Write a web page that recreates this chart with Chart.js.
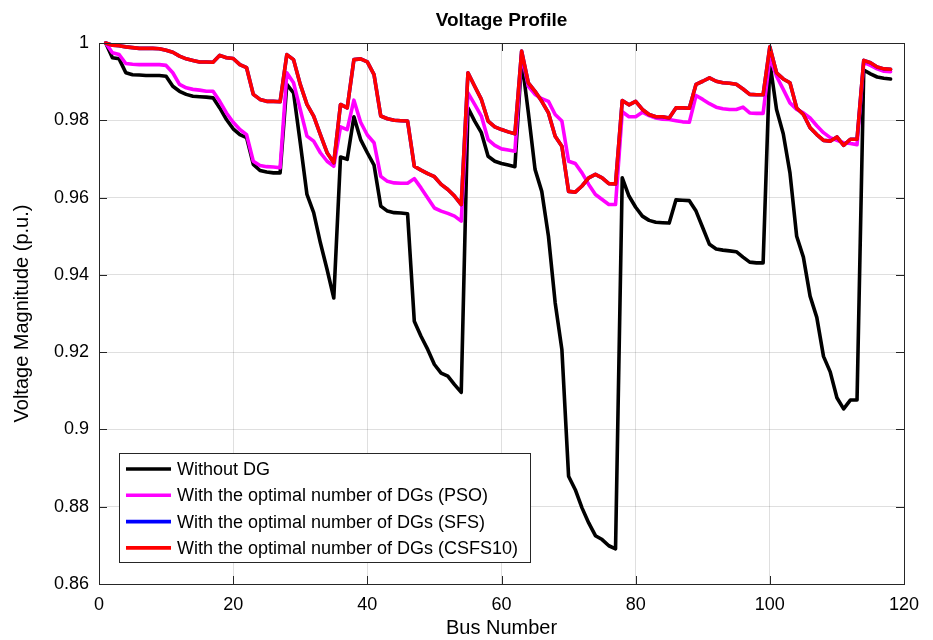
<!DOCTYPE html>
<html>
<head>
<meta charset="utf-8">
<title>Voltage Profile</title>
<script src="https://cdn.jsdelivr.net/npm/chart.js@4.4.1/dist/chart.umd.min.js"></script>
<style>
  html, body { margin: 0; padding: 0; background: #ffffff; }
  #wrap { width: 933px; height: 640px; }
</style>
</head>
<body>
<div id="wrap"><canvas id="chartVoltage" width="933" height="640"></canvas></div>
<script>
/* Voltage profile - 118 bus system */

const busNumbers = Array.from({ length: 118 }, (_, i) => i + 1);

const withoutDG = [
  1.0000, 0.9962, 0.9959, 0.9923, 0.9918, 0.9917, 0.9916, 0.9916, 0.9916, 0.9914,
  0.9888, 0.9875, 0.9867, 0.9862, 0.9861, 0.9860, 0.9858, 0.9832, 0.9802, 0.9778,
  0.9763, 0.9755, 0.9686, 0.9670, 0.9666, 0.9664, 0.9664, 0.9893, 0.9871, 0.9742,
  0.9608, 0.9561, 0.9483, 0.9414, 0.9340, 0.9705, 0.9699, 0.9809, 0.9750, 0.9716,
  0.9684, 0.9578, 0.9565, 0.9561, 0.9560, 0.9558, 0.9280, 0.9241, 0.9207, 0.9168,
  0.9146, 0.9138, 0.9116, 0.9096, 0.9832, 0.9798, 0.9768, 0.9707, 0.9694, 0.9688,
  0.9684, 0.9680, 0.9957, 0.9820, 0.9673, 0.9616, 0.9500, 0.9328, 0.9207, 0.8879,
  0.8844, 0.8797, 0.8758, 0.8725, 0.8715, 0.8699, 0.8691, 0.9651, 0.9604, 0.9575,
  0.9552, 0.9541, 0.9536, 0.9535, 0.9534, 0.9594, 0.9593, 0.9592, 0.9565, 0.9522,
  0.9479, 0.9467, 0.9464, 0.9462, 0.9460, 0.9446, 0.9433, 0.9431, 0.9431, 0.9950,
  0.9828, 0.9765, 0.9664, 0.9500, 0.9446, 0.9345, 0.9290, 0.9189, 0.9149, 0.9082,
  0.9053, 0.9076, 0.9076, 0.9930, 0.9920, 0.9912, 0.9909, 0.9907,
];

const withPSO = [
  1.0000, 0.9975, 0.9970, 0.9947, 0.9945, 0.9944, 0.9944, 0.9944, 0.9944, 0.9942,
  0.9923, 0.9893, 0.9884, 0.9880, 0.9878, 0.9875, 0.9875, 0.9849, 0.9819, 0.9795,
  0.9776, 0.9763, 0.9694, 0.9683, 0.9680, 0.9679, 0.9677, 0.9923, 0.9897, 0.9828,
  0.9759, 0.9746, 0.9716, 0.9694, 0.9681, 0.9783, 0.9776, 0.9852, 0.9795, 0.9762,
  0.9742, 0.9655, 0.9642, 0.9638, 0.9637, 0.9637, 0.9649, 0.9625, 0.9599, 0.9573,
  0.9565, 0.9559, 0.9552, 0.9539, 0.9871, 0.9841, 0.9811, 0.9750, 0.9735, 0.9726,
  0.9723, 0.9720, 0.9970, 0.9888, 0.9867, 0.9856, 0.9849, 0.9815, 0.9798, 0.9694,
  0.9688, 0.9664, 0.9634, 0.9608, 0.9595, 0.9582, 0.9582, 0.9822, 0.9809, 0.9809,
  0.9821, 0.9812, 0.9806, 0.9803, 0.9802, 0.9799, 0.9796, 0.9795, 0.9864, 0.9854,
  0.9843, 0.9834, 0.9830, 0.9828, 0.9828, 0.9834, 0.9819, 0.9818, 0.9818, 0.9962,
  0.9914, 0.9880, 0.9845, 0.9828, 0.9819, 0.9806, 0.9786, 0.9768, 0.9755, 0.9748,
  0.9742, 0.9740, 0.9737, 0.9950, 0.9942, 0.9933, 0.9927, 0.9926,
];

// SFS is hidden under CSFS10 in the picture, read as the same curve
const withSFS = [
  1.0000, 0.9994, 0.9993, 0.9990, 0.9988, 0.9986, 0.9986, 0.9986, 0.9985, 0.9981,
  0.9976, 0.9966, 0.9959, 0.9955, 0.9951, 0.9951, 0.9950, 0.9968, 0.9962, 0.9960,
  0.9944, 0.9936, 0.9867, 0.9854, 0.9849, 0.9849, 0.9848, 0.9970, 0.9957, 0.9893,
  0.9841, 0.9811, 0.9763, 0.9716, 0.9690, 0.9841, 0.9832, 0.9957, 0.9959, 0.9951,
  0.9918, 0.9811, 0.9804, 0.9800, 0.9799, 0.9798, 0.9681, 0.9671, 0.9662, 0.9654,
  0.9634, 0.9621, 0.9604, 0.9582, 0.9923, 0.9888, 0.9854, 0.9798, 0.9783, 0.9776,
  0.9770, 0.9765, 0.9979, 0.9897, 0.9875, 0.9849, 0.9819, 0.9759, 0.9733, 0.9616,
  0.9614, 0.9630, 0.9651, 0.9660, 0.9651, 0.9636, 0.9635, 0.9851, 0.9840, 0.9849,
  0.9828, 0.9815, 0.9809, 0.9809, 0.9806, 0.9832, 0.9832, 0.9831, 0.9893, 0.9901,
  0.9910, 0.9901, 0.9897, 0.9896, 0.9893, 0.9881, 0.9867, 0.9866, 0.9866, 0.9990,
  0.9923, 0.9907, 0.9897, 0.9832, 0.9815, 0.9781, 0.9763, 0.9748, 0.9746, 0.9757,
  0.9735, 0.9751, 0.9751, 0.9955, 0.9949, 0.9938, 0.9933, 0.9932,
];

const withCSFS10 = [
  1.0000, 0.9994, 0.9993, 0.9990, 0.9988, 0.9986, 0.9986, 0.9986, 0.9985, 0.9981,
  0.9976, 0.9966, 0.9959, 0.9955, 0.9951, 0.9951, 0.9950, 0.9968, 0.9962, 0.9960,
  0.9944, 0.9936, 0.9867, 0.9854, 0.9849, 0.9849, 0.9848, 0.9970, 0.9957, 0.9893,
  0.9841, 0.9811, 0.9763, 0.9716, 0.9690, 0.9841, 0.9832, 0.9957, 0.9959, 0.9951,
  0.9918, 0.9811, 0.9804, 0.9800, 0.9799, 0.9798, 0.9681, 0.9671, 0.9662, 0.9654,
  0.9634, 0.9621, 0.9604, 0.9582, 0.9923, 0.9888, 0.9854, 0.9798, 0.9783, 0.9776,
  0.9770, 0.9765, 0.9979, 0.9897, 0.9875, 0.9849, 0.9819, 0.9759, 0.9733, 0.9616,
  0.9614, 0.9630, 0.9651, 0.9660, 0.9651, 0.9636, 0.9635, 0.9851, 0.9840, 0.9849,
  0.9828, 0.9815, 0.9809, 0.9809, 0.9806, 0.9832, 0.9832, 0.9831, 0.9893, 0.9901,
  0.9910, 0.9901, 0.9897, 0.9896, 0.9893, 0.9881, 0.9867, 0.9866, 0.9866, 0.9990,
  0.9923, 0.9907, 0.9897, 0.9832, 0.9815, 0.9781, 0.9763, 0.9748, 0.9746, 0.9757,
  0.9735, 0.9751, 0.9751, 0.9955, 0.9949, 0.9938, 0.9933, 0.9932,
];

const xTicks = [0, 20, 40, 60, 80, 100, 120];
const yTicks = [0.86, 0.88, 0.9, 0.92, 0.94, 0.96, 0.98, 1];

const SERIES_LABELS = [
  "Without DG",
  "With the optimal number of DGs (PSO)",
  "With the optimal number of DGs (SFS)",
  "With the optimal number of DGs (CSFS10)",
];

const SERIES_COLORS = ["#000000", "#ff00ff", "#0000ff", "#ff0000"];

const FONT = '"Liberation Sans", Arial, Helvetica, sans-serif';
const AXIS_COLOR = "#262626";


document.addEventListener("DOMContentLoaded", function () {
  createVoltageChart("chartVoltage");
});


function toPoints(values) {
  return values.map((v, i) => ({ x: busNumbers[i], y: v }));
}


function makeDataset(index, values) {
  return {
    label: SERIES_LABELS[index],
    data: toPoints(values),
    borderColor: SERIES_COLORS[index],
    backgroundColor: SERIES_COLORS[index],
    borderWidth: 3.6,
    borderJoinStyle: "round",
    borderCapStyle: "round",
    pointRadius: 0,
    tension: 0,
    clip: false,
    order: 4 - index,
  };
}


// title, inward ticks, axes box and the legend, MATLAB style
const frameAndLegend = {
  id: "frameAndLegend",
  afterDraw(chart) {
    const ctx = chart.ctx;
    const area = chart.chartArea;
    const xs = chart.scales.x;
    const ys = chart.scales.y;
    const tickLen = 8;

    ctx.save();
    ctx.strokeStyle = AXIS_COLOR;
    ctx.lineWidth = 1;

    xTicks.forEach((v) => {
      const px = Math.round(xs.getPixelForValue(v)) + 0.5;
      ctx.beginPath();
      ctx.moveTo(px, area.bottom);
      ctx.lineTo(px, area.bottom - tickLen);
      ctx.moveTo(px, area.top);
      ctx.lineTo(px, area.top + tickLen);
      ctx.stroke();
    });

    yTicks.forEach((v) => {
      const py = Math.round(ys.getPixelForValue(v)) + 0.5;
      ctx.beginPath();
      ctx.moveTo(area.left, py);
      ctx.lineTo(area.left + tickLen, py);
      ctx.moveTo(area.right, py);
      ctx.lineTo(area.right - tickLen, py);
      ctx.stroke();
    });

    ctx.strokeRect(
      Math.round(area.left) + 0.5,
      Math.round(area.top) + 0.5,
      Math.round(area.right - area.left),
      Math.round(area.bottom - area.top)
    );

    // title
    ctx.fillStyle = "#000000";
    ctx.font = "bold 19px " + FONT;
    ctx.textAlign = "center";
    ctx.textBaseline = "middle";
    ctx.fillText("Voltage Profile", (area.left + area.right) / 2, 21);

    // legend
    const box = { x: 119.5, y: 453.5, w: 411, h: 109 };
    ctx.fillStyle = "#ffffff";
    ctx.fillRect(box.x, box.y, box.w, box.h);
    ctx.strokeStyle = AXIS_COLOR;
    ctx.strokeRect(box.x, box.y, box.w, box.h);

    ctx.font = "18px " + FONT;
    ctx.textAlign = "left";
    ctx.textBaseline = "middle";

    SERIES_LABELS.forEach((label, i) => {
      const rowY = 469 + i * 26.3;
      ctx.strokeStyle = SERIES_COLORS[i];
      ctx.lineWidth = 3.6;
      ctx.beginPath();
      ctx.moveTo(126, rowY);
      ctx.lineTo(171, rowY);
      ctx.stroke();
      ctx.fillStyle = "#000000";
      ctx.fillText(label, 177, rowY + 1);
    });

    ctx.restore();
  },
};


function createVoltageChart(canvasId) {
  const ctx = document.getElementById(canvasId);

  if (!ctx) return;

  new Chart(ctx, {
    type: "line",
    data: {
      datasets: [
        makeDataset(0, withoutDG),
        makeDataset(1, withPSO),
        makeDataset(2, withSFS),
        makeDataset(3, withCSFS10),
      ],
    },
    options: getChartOptions(),
    plugins: [frameAndLegend],
  });
}


function getChartOptions() {
  return {
    responsive: false,
    animation: false,
    devicePixelRatio: 1,
    layout: {
      padding: { top: 43, right: 29, left: 0, bottom: 0 },
    },
    plugins: {
      legend: { display: false },
      title: { display: false },
      tooltip: { enabled: false },
    },
    scales: {
      x: {
        type: "linear",
        min: 0,
        max: 120,
        afterBuildTicks: (scale) => {
          scale.ticks = xTicks.map((v) => ({ value: v }));
        },
        afterFit: (scale) => {
          scale.height = 56;
        },
        grid: {
          color: "rgba(38, 38, 38, 0.15)",
          drawTicks: false,
        },
        border: { display: false },
        ticks: {
          color: "#000000",
          padding: 10,
          maxRotation: 0,
          font: { family: FONT, size: 18 },
        },
        title: {
          display: true,
          text: "Bus Number",
          color: "#000000",
          padding: { top: 0, bottom: 0 },
          font: { family: FONT, size: 20 },
        },
      },
      y: {
        type: "linear",
        min: 0.86,
        max: 1,
        afterBuildTicks: (scale) => {
          scale.ticks = yTicks.map((v) => ({ value: v }));
        },
        afterFit: (scale) => {
          scale.width = 99;
        },
        grid: {
          color: "rgba(38, 38, 38, 0.15)",
          drawTicks: false,
        },
        border: { display: false },
        ticks: {
          color: "#000000",
          padding: 10,
          font: { family: FONT, size: 18 },
          callback: (value) => String(Number(value.toFixed(2))),
        },
        title: {
          display: true,
          text: "Voltage Magnitude (p.u.)",
          color: "#000000",
          padding: { top: 10, bottom: 0 },
          font: { family: FONT, size: 20 },
        },
      },
    },
  };
}
</script>
</body>
</html>
